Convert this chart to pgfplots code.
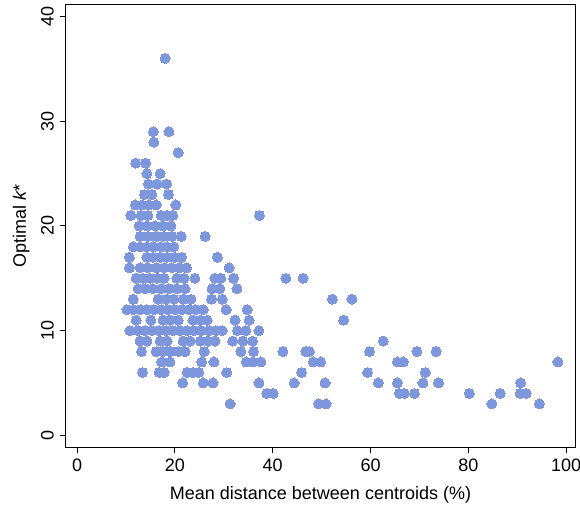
\documentclass[border=0pt]{standalone}
\usepackage{fontspec}
\setmainfont{Liberation Sans}
\usepackage{pgfplots}
\pgfplotsset{compat=1.18}
\usepackage{pgfplotstable}
\definecolor{dotblue}{RGB}{126,150,220}

\pgfplotstableread{
x y
18.0 36
15.6 29
18.8 29
15.7 28
20.7 27
12.0 26
14.0 26
14.3 25
17.0 25
14.6 24
16.4 24
18.3 24
13.8 23
15.3 23
18.7 23
11.9 22
13.3 22
14.7 22
16.2 22
20.2 22
11.0 21
13.1 21
14.5 21
17.2 21
18.4 21
19.6 21
37.3 21
12.7 20
14.3 20
16.0 20
17.6 20
19.2 20
12.9 19
14.5 19
16.2 19
17.8 19
19.4 19
21.3 19
26.2 19
11.5 18
12.9 18
14.3 18
15.7 18
17.2 18
18.4 18
19.8 18
10.7 17
14.3 17
15.5 17
17.0 17
18.4 17
20.0 17
21.4 17
28.7 17
10.7 16
12.9 16
14.5 16
16.2 16
17.8 16
19.4 16
20.9 16
22.4 16
31.1 16
12.1 15
13.5 15
14.9 15
16.4 15
17.8 15
20.4 15
21.9 15
24.1 15
28.2 15
29.4 15
32.0 15
42.7 15
46.2 15
12.5 14
13.9 14
15.5 14
17.2 14
18.8 14
20.4 14
22.1 14
27.6 14
29.2 14
32.7 14
11.5 13
16.6 13
18.2 13
19.8 13
21.7 13
23.3 13
27.5 13
29.7 13
52.2 13
56.2 13
10.2 12
11.5 12
12.9 12
14.3 12
15.7 12
17.2 12
18.6 12
20.0 12
21.5 12
22.9 12
24.3 12
25.8 12
30.5 12
34.8 12
12.1 11
15.1 11
17.6 11
19.0 11
20.7 11
23.7 11
25.2 11
26.6 11
32.3 11
35.2 11
54.5 11
10.8 10
12.5 10
13.9 10
15.3 10
16.8 10
18.2 10
19.6 10
21.1 10
22.5 10
23.9 10
25.4 10
27.0 10
28.4 10
29.7 10
32.8 10
34.5 10
37.2 10
12.9 9
14.3 9
17.0 9
18.4 9
21.7 9
23.1 9
25.2 9
26.8 9
28.2 9
31.8 9
33.9 9
35.9 9
62.6 9
13.2 8
16.2 8
17.6 8
19.0 8
20.7 8
22.1 8
26.0 8
33.5 8
36.1 8
42.1 8
46.8 8
47.5 8
59.8 8
69.5 8
73.4 8
17.3 7
19.0 7
25.5 7
28.0 7
34.6 7
35.9 7
37.6 7
48.3 7
49.8 7
65.5 7
66.7 7
98.3 7
13.4 6
16.8 6
17.8 6
22.5 6
23.7 6
24.9 6
30.6 6
45.9 6
59.4 6
71.2 6
21.6 5
25.8 5
27.8 5
37.2 5
44.4 5
50.7 5
61.6 5
65.5 5
70.7 5
73.9 5
90.7 5
38.8 4
40.1 4
65.9 4
66.9 4
69.0 4
80.2 4
86.5 4
90.6 4
91.8 4
31.3 3
49.4 3
50.9 3
84.8 3
94.5 3
}\datatable

\begin{document}
\begin{tikzpicture}
\begin{axis}[
  scale only axis,
  width=509pt, height=442pt,
  xmin=-2.25, xmax=101.8,
  ymin=-1.12, ymax=41.1,
  xtick={0,20,40,60,80,100},
  ytick={0,10,20,30,40},
  tick align=outside,
  major tick length=6pt,
  xtick pos=bottom, ytick pos=left,
  axis line style={black, line width=1pt},
  every tick/.style={black, line width=1pt},
  /pgf/number format/assume math mode=true,
  tick label style={font=\fontsize{18}{21}\selectfont},
  label style={font=\fontsize{18}{21}\selectfont},
  yticklabel style={rotate=90, anchor=south, inner sep=6pt},
  xticklabel style={inner sep=6pt},
  xlabel={Mean distance between centroids (\%)},
  ylabel={Optimal \textit{k}*},
  xlabel style={yshift=-5pt},
  ylabel style={yshift=2pt},
  clip=false,
]
\addplot[only marks, mark=*, mark size=5pt,
  mark options={fill=dotblue, draw=dotblue, line width=0pt}]
  table[x=x, y=y] {\datatable};
\end{axis}
\pgfresetboundingbox
\path (-66pt,-59pt) rectangle (514pt,447pt);
\end{tikzpicture}
\end{document}
